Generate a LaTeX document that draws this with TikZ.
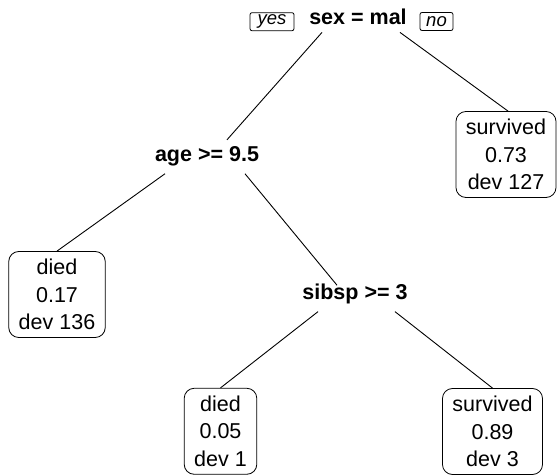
\documentclass[tikz,border=0pt]{standalone}
\usepackage{fontspec}
\setmainfont{Liberation Sans}
\usepackage{tikz}

\begin{document}
\begin{tikzpicture}[x=1pt,y=1pt,
  split/.style={font=\fontsize{21.5}{27.3}\selectfont\bfseries,inner sep=7pt,anchor=base},
  leaf/.style={draw,line width=0.8pt,rounded corners=10pt,align=center,
    font=\fontsize{21.5}{27.3}\selectfont,inner xsep=10pt,inner ysep=0pt,minimum height=86pt},
  tag/.style={draw,line width=0.8pt,rounded corners=2pt,inner sep=0pt,
    font=\fontsize{18.5}{20}\selectfont\itshape,minimum height=18pt},
  branch/.style={line width=0.9pt}]
%\draw[help lines] (0,0)grid[step=50](557,476);
\useasboundingbox (0,0) rectangle (557,476);
\node[split] (root) at (358,451) {sex = mal};
\node[tag,minimum width=44pt] (yes) at (272,454.3) {yes};
\node[tag,minimum width=33pt] (no) at (436.5,454.5) {no};
\node[split] (age) at (207,314) {age >= 9.5};
\node[split] (sibsp) at (355,176) {sibsp >= 3};
\node[leaf] (surv1) at (506,321.5) {survived\\0.73\\dev 127};
\node[leaf] (died1) at (57,181.5) {died\\0.17\\dev 136};
\node[leaf] (died2) at (220.5,44.7) {died\\0.05\\dev 1};
\node[leaf] (surv2) at (492.5,44.5) {survived\\0.89\\dev 3};
\draw[branch] ([xshift=-36pt]root.south) -- ([xshift=20pt]age.north);
\draw[branch] ([xshift=42pt]root.south) -- ([xshift=2pt]surv1.north);
\draw[branch] ([xshift=-42pt]age.south) -- (died1.north);
\draw[branch] ([xshift=38pt]age.south) -- ([xshift=-18pt,yshift=-8pt]sibsp.north);
\draw[branch] ([xshift=-37pt]sibsp.south) -- (died2.north);
\draw[branch] ([xshift=40pt]sibsp.south) -- (surv2.north);
\end{tikzpicture}
\end{document}
